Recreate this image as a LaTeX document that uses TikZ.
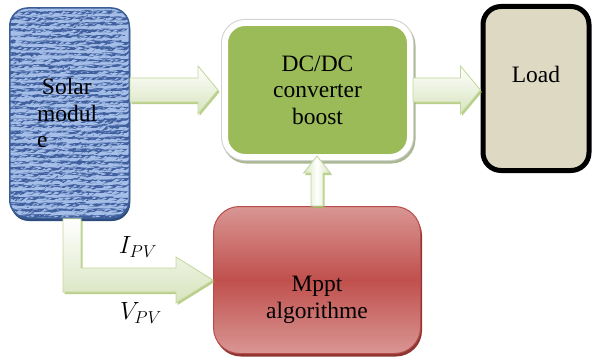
\documentclass[tikz,border=0pt]{standalone}
\usepackage{fontspec}
\setmainfont{Liberation Serif}
\usetikzlibrary{calc,shadows}

\definecolor{solblue}{HTML}{6584C2}
\definecolor{solspot}{HTML}{A6BFE9}
\definecolor{soldark}{HTML}{3F5F9E}
\definecolor{solline}{HTML}{3B5E96}
\definecolor{solshadow}{HTML}{2E4C7E}
\definecolor{dcgreen}{HTML}{9BBB59}
\definecolor{dcline}{HTML}{D0D0D0}
\definecolor{dcshadow}{HTML}{AAB894}
\definecolor{loadfill}{HTML}{DDD9C3}
\definecolor{mppttop}{HTML}{D99694}
\definecolor{mpptmid}{HTML}{C0504D}
\definecolor{mpptline}{HTML}{B64C49}
\definecolor{mpptshadow}{HTML}{8E3532}
\definecolor{arrline}{HTML}{C3D69B}
\definecolor{arrfill}{HTML}{D7E4BD}
\definecolor{arrshadow}{HTML}{9BBB59}

\begin{document}
\begin{tikzpicture}[x=1pt,y=-1pt,font=\fontsize{23.5}{26.5}\selectfont]
    \tikzstyle{block}=[rounded corners=18pt, inner sep=0pt, align=center]
    \tikzstyle{solar block}=[block, align=left, text width=65pt,
        drop shadow={shadow xshift=1pt, shadow yshift=-3pt, fill=solshadow, opacity=1},
        fill=solblue, draw=solline, line width=1.5pt,
        path picture={
            \pgfmathsetseed{11}
            % woven texture of the panel
            \foreach \cx in {0,6,...,120}
                \foreach \cy in {0,6,...,210} {
                    \fill[solspot] ($(path picture bounding box.north west)+(\cx+rnd*2,\cy+rnd*2)$)
                        rectangle +(1.5+rnd*3,1+rnd*2);
                    \fill[soldark] ($(path picture bounding box.north west)+(\cx+3+rnd*2,\cy+2+rnd*2)$)
                        rectangle +(1+rnd*2,1.5+rnd*2.5);
                }
        }];
    \tikzstyle{converter block}=[block, rounded corners=20pt, fill=dcgreen,
        drop shadow={shadow xshift=1.5pt, shadow yshift=-2.5pt, fill=dcshadow, draw=dcshadow, line width=8pt, opacity=1},
        preaction={draw=dcline, line width=8pt},
        draw=white, line width=6pt];
    \tikzstyle{load block}=[block, fill=loadfill, draw=black, line width=5pt];
    \tikzstyle{mppt block}=[block, rounded corners=26pt,
        top color=mppttop, bottom color=mppttop, middle color=mpptmid,
        drop shadow={shadow xshift=1.5pt, shadow yshift=-3pt, fill=mpptshadow, opacity=1},
        draw=mpptline, line width=1pt];
    \tikzstyle{flow}=[draw=arrline, line width=0.8pt, top color=white, bottom color=arrfill,
        drop shadow={shadow xshift=1.5pt, shadow yshift=-2pt, fill=arrshadow, opacity=0.7}];
    \tikzstyle{flow right}=[flow, to path={let \p1=(\tikztostart), \p2=(\tikztotarget) in
        (\x1,\y1+12pt) -- (\x2-20pt,\y1+12pt) -- (\x2-20pt,\y1+24pt) -- (\x2,\y1)
        -- (\x2-20pt,\y1-24pt) -- (\x2-20pt,\y1-12pt) -- (\x1,\y1-12pt) -- cycle}];
    \tikzstyle{flow up}=[flow, left color=arrfill, right color=arrfill, middle color=white,
        to path={let \p1=(\tikztostart), \p2=(\tikztotarget) in
        (\x1-6pt,\y1) -- (\x1-6pt,\y2-17pt) -- (\x1-13.5pt,\y2-17pt) -- (\x1,\y2)
        -- (\x1+13.5pt,\y2-17pt) -- (\x1+6pt,\y2-17pt) -- (\x1+6pt,\y1) -- cycle}];
    \tikzstyle{flow corner}=[flow, to path={let \p1=(\tikztostart), \p2=(\tikztotarget) in
        (\x1-8pt,\y1) -- (\x1+10pt,\y1) -- (\x1+10pt,\y2+12pt) -- (\x2-37pt,\y2+12pt)
        -- (\x2-37pt,\y2+23pt) -- (\x2,\y2) -- (\x2-37pt,\y2-23pt) -- (\x2-37pt,\y2-12pt)
        -- (\x1-8pt,\y2-12pt) -- cycle}];
    \tikzstyle{annot}=[inner sep=0pt]

    \useasboundingbox (0,0) rectangle (592,361);

    % Draw the blocks
    \node[solar block, minimum width=119.5pt, minimum height=210pt] (sol) at (69.5,113)
        {\hspace*{5pt}Solar\\modul\\e};
    \node[converter block, minimum width=185pt, minimum height=134pt] (dc) at (317.5,90)
        {DC/DC\\converter\\boost};
    \node[load block, minimum width=106pt, minimum height=164pt,
        label={[annot, yshift=14pt]center:Load}] (load) at (536,88.5) {};
    \node[mppt block, minimum width=207pt, minimum height=147pt,
        label={[annot, align=center, yshift=-20pt]center:Mppt\\algorithme}] (mppt) at (317,280) {};

    % Connect the blocks
    \draw[flow right] (sol.east |- dc.west) to ([xshift=-4pt]dc.west);
    \draw[flow right] (dc.east) to (dc.east -| load.west);
    \draw[flow up] (mppt.north) to ([yshift=4pt]dc.south);
    \draw[flow corner] ([xshift=1.5pt]sol.south) to (mppt.west);

    % Annotate the measurements
    \node[annot] (ipv) at (138,247) {$I_{PV}$};
    \node[annot] (vpv) at (141,313) {$V_{PV}$};
\end{tikzpicture}
\end{document}
